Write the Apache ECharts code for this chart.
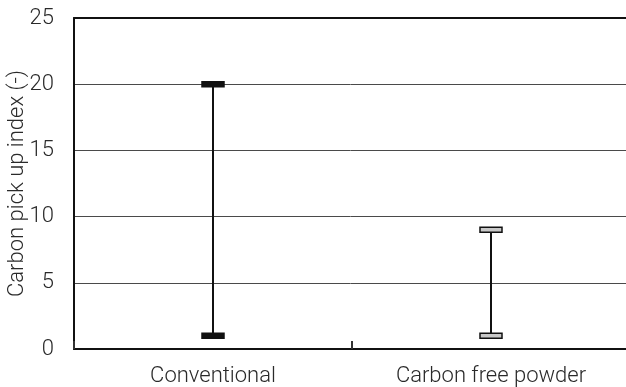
<!DOCTYPE html>
<html>
<head>
<meta charset="utf-8">
<script src="https://cdn.jsdelivr.net/npm/echarts@6/dist/echarts.min.js"></script>
<style>
  html, body { margin: 0; padding: 0; background: #fff; }
  #chart { width: 626px; height: 387px; }
</style>
</head>
<body>
<div id="chart"></div>
<script>
// Range of carbon pick up index per powder type
const categories = ['Conventional', 'Carbon free powder'];
const lowValues = [1, 1];
const highValues = [20, 9];
const yTicks = [0, 5, 10, 15, 20, 25];

const capFill = ['#111111', '#c8c8c8'];
const capStroke = ['#111111', '#111111'];

const chart = echarts.init(document.getElementById('chart'), null, { renderer: 'canvas' });

const rangeData = categories.map((c, i) => [i, lowValues[i], highValues[i]]);

const fontFamily = 'Roboto, "Liberation Sans", sans-serif';
const textColor = '#2a2a2a';

chart.setOption({
  animation: false,
  grid: { left: 74, right: -4, top: 18, bottom: 38, containLabel: false, outerBoundsMode: 'none' },
  xAxis: [
    {
      type: 'category',
      data: categories,
      boundaryGap: true,
      axisLine: { lineStyle: { color: '#111', width: 2 } },
      axisTick: { show: true, inside: true, length: 8, lineStyle: { color: '#333', width: 2 } },
      axisLabel: { color: textColor, fontSize: 22, fontWeight: 300, fontFamily, margin: 16 },
      splitLine: { show: false }
    },
    {
      type: 'category',
      position: 'top',
      data: categories,
      axisLine: { lineStyle: { color: '#111', width: 2 } },
      axisTick: { show: false },
      axisLabel: { show: false }
    }
  ],
  yAxis: {
    type: 'value',
    min: yTicks[0],
    max: yTicks[yTicks.length - 1],
    interval: 5,
    name: 'Carbon pick up index (-)',
    nameLocation: 'middle',
    nameGap: 46,
    nameMoveOverlap: false,
    nameTextStyle: { color: textColor, fontSize: 22, fontWeight: 300, fontFamily },
    axisLine: { show: true, lineStyle: { color: '#111', width: 2 } },
    axisTick: { show: false },
    axisLabel: { color: textColor, fontSize: 22, fontWeight: 300, fontFamily, margin: 20 },
    splitLine: { show: true, lineStyle: { color: '#4a4a4a', width: 1 } }
  },
  series: [
    {
      type: 'custom',
      data: rangeData,
      encode: { x: 0, y: [1, 2] },
      renderItem: function (params, api) {
        const idx = api.value(0);
        const lo = api.coord([idx, api.value(1)]);
        const hi = api.coord([idx, api.value(2)]);
        const capW = 22, capH = 5;
        const i = params.dataIndex;
        const capStyle = { fill: capFill[i], stroke: capStroke[i], lineWidth: 1.5 };
        return {
          type: 'group',
          children: [
            {
              type: 'line',
              shape: { x1: lo[0], y1: lo[1], x2: hi[0], y2: hi[1] },
              style: { stroke: '#111', lineWidth: 2 }
            },
            {
              type: 'rect',
              shape: { x: hi[0] - capW / 2, y: hi[1] - capH / 2, width: capW, height: capH },
              style: capStyle
            },
            {
              type: 'rect',
              shape: { x: lo[0] - capW / 2, y: lo[1] - capH / 2, width: capW, height: capH },
              style: capStyle
            }
          ]
        };
      }
    }
  ]
});
</script>
</body>
</html>
